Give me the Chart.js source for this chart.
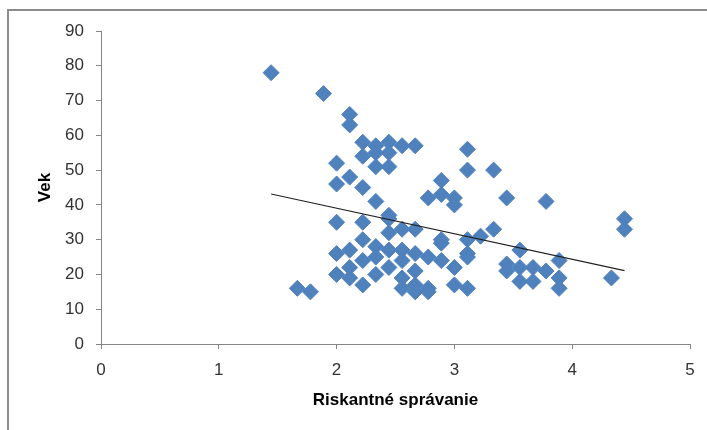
<!DOCTYPE html>
<html><head><meta charset="utf-8">
<script src="https://cdn.jsdelivr.net/npm/chart.js@4"></script>
<style>
html,body{margin:0;padding:0;background:#fff;}
#wrap{position:relative;width:707px;height:430px;overflow:hidden;}
#frame{position:absolute;left:7px;top:9px;width:720px;height:440px;border-top:2px solid #8c8c8c;border-left:2px solid #8c8c8c;}
canvas{position:absolute;left:0;top:0;}
</style></head><body>
<div id="wrap"><div id="frame"></div><canvas id="c" width="707" height="430"></canvas></div>
<script>
const riskValues = [
  1.444, 1.667, 1.778, 1.889,
  2.0, 2.0, 2.0, 2.0, 2.0,
  2.111, 2.111, 2.111, 2.111, 2.111, 2.111,
  2.222, 2.222, 2.222, 2.222, 2.222, 2.222, 2.222,
  2.333, 2.333, 2.333, 2.333, 2.333, 2.333, 2.333,
  2.444, 2.444, 2.444, 2.444, 2.444, 2.444, 2.444, 2.444,
  2.556, 2.556, 2.556, 2.556, 2.556, 2.556,
  2.667, 2.667, 2.667, 2.667, 2.667, 2.667,
  2.778, 2.778, 2.778, 2.778,
  2.889, 2.889, 2.889, 2.889, 2.889,
  3.0, 3.0, 3.0, 3.0,
  3.111, 3.111, 3.111, 3.111, 3.111, 3.111,
  3.222,
  3.333, 3.333,
  3.444, 3.444, 3.444,
  3.556, 3.556, 3.556,
  3.667, 3.667,
  3.778, 3.778,
  3.889, 3.889, 3.889,
  4.333,
  4.444, 4.444
];
const ageValues = [
  78, 16, 15, 72,
  52, 46, 35, 26, 20,
  66, 63, 48, 27, 22, 19,
  58, 54, 45, 35, 30, 24, 17,
  57, 55, 51, 41, 28, 25, 20,
  58, 55, 51, 37, 36, 32, 27, 22,
  57, 33, 27, 24, 19, 16,
  57, 33, 26, 21, 17, 15,
  42, 25, 16, 15,
  47, 43, 30, 29, 24,
  42, 40, 22, 17,
  56, 50, 30, 26, 25, 16,
  31,
  50, 33,
  42, 23, 21,
  27, 22, 18,
  22, 18,
  41, 21,
  24, 19, 16,
  19,
  36, 33
];
const xTitle = 'Riskantné správanie';
const yTitle = 'Vek';

const points = riskValues.map((x, i) => ({x: x, y: ageValues[i]}));

// linear trend line (least squares) from the data
const n = riskValues.length;
const mx = riskValues.reduce((a, b) => a + b, 0) / n;
const my = ageValues.reduce((a, b) => a + b, 0) / n;
let sxy = 0, sxx = 0;
for (let i = 0; i < n; i++) { sxy += (riskValues[i] - mx) * (ageValues[i] - my); sxx += (riskValues[i] - mx) ** 2; }
const slope = sxy / sxx, icpt = my - slope * mx;
const xMin = Math.min(...riskValues), xMax = Math.max(...riskValues);
const trend = [{x: xMin, y: icpt + slope * xMin}, {x: xMax, y: icpt + slope * xMax}];

const FONT = "'Liberation Sans Narrow', 'Liberation Sans', Roboto, sans-serif";
const axisColor = '#868686';

new Chart(document.getElementById('c'), {
  type: 'scatter',
  data: {
    datasets: [
      {
        data: points,
        pointStyle: 'rectRot',
        pointRadius: 8,
        pointHoverRadius: 8,
        backgroundColor: '#4F81BD',
        borderColor: '#4F81BD',
        borderWidth: 1,
        order: 2
      },
      {
        data: trend,
        showLine: true,
        pointRadius: 0,
        borderColor: '#222',
        borderWidth: 1.2,
        order: 1
      }
    ]
  },
  options: {
    responsive: false,
    animation: false,
    events: [],
    layout: {padding: {top: 31, right: 17, left: 0, bottom: 0}},
    plugins: {legend: {display: false}, tooltip: {enabled: false}},
    scales: {
      x: {
        type: 'linear', min: 0, max: 5,
        ticks: {stepSize: 1, padding: 11, color: '#333', font: {family: FONT, size: 17}},
        grid: {display: true, drawOnChartArea: false, drawTicks: true, tickLength: 5, color: axisColor},
        border: {display: true, color: axisColor, width: 1},
        title: {display: true, text: xTitle, color: '#000', font: {family: FONT, size: 17, weight: 'bold'}, padding: {top: 0, bottom: 19}},
        afterFit: s => { s.height = 86; }
      },
      y: {
        type: 'linear', min: 0, max: 90,
        ticks: {stepSize: 10, padding: 12, color: '#333', font: {family: FONT, size: 17}},
        grid: {display: true, drawOnChartArea: false, drawTicks: true, tickLength: 5, color: axisColor},
        border: {display: true, color: axisColor, width: 1},
        title: {display: true, text: yTitle, color: '#000', font: {family: FONT, size: 17, weight: 'bold'}, padding: {top: 35, bottom: 0}},
        afterFit: s => { s.width = 101; }
      }
    }
  }
});
</script>
</body></html>
